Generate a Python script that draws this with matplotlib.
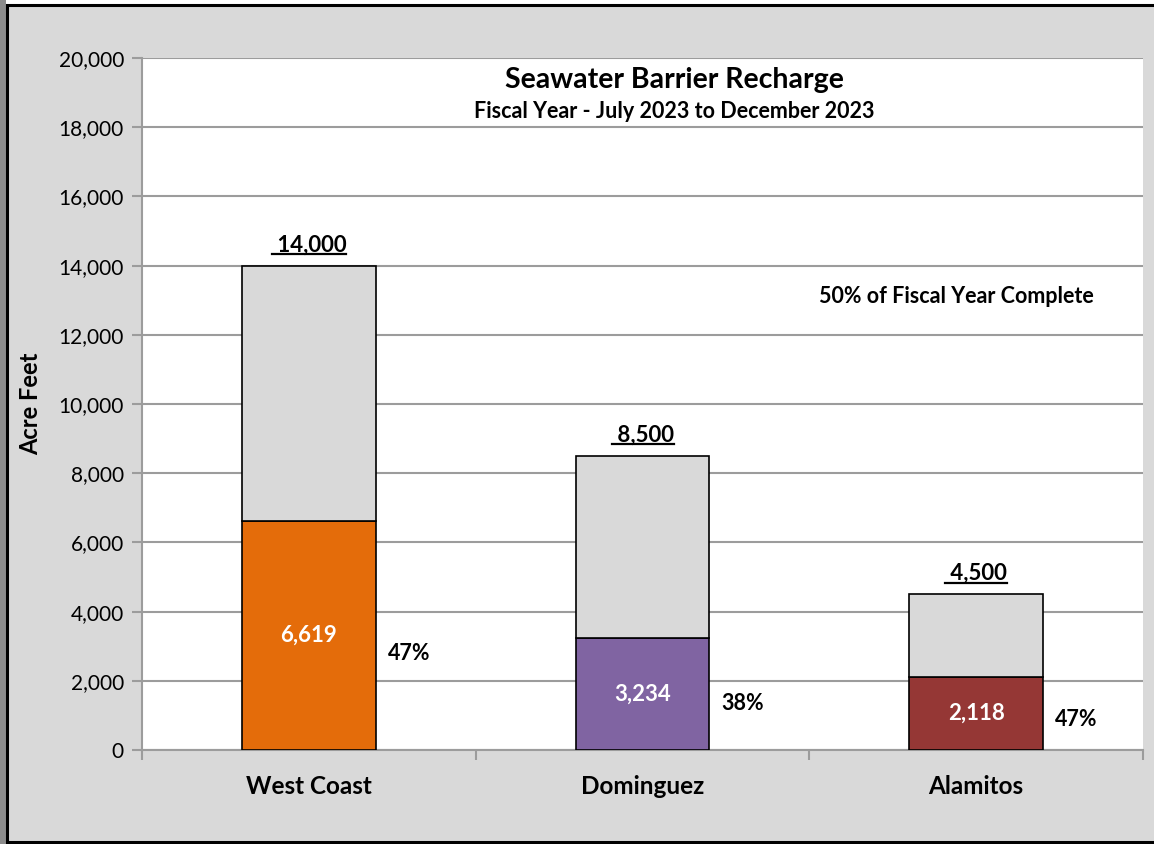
import matplotlib
matplotlib.use("Agg")
import matplotlib.pyplot as plt
from matplotlib.patches import Rectangle
from matplotlib.lines import Line2D
import numpy as np

plt.rcParams['font.family'] = ['Lato', 'DejaVu Sans']

# data
barriers = ["West Coast", "Dominguez", "Alamitos"]
annual_target = [14000, 8500, 4500]
recharged = [6619, 3234, 2118]
percent_labels = ["47%", "38%", "47%"]
fill_colors = ["#e46c0a", "#8064a2", "#953735"]
yticks = list(range(0, 20001, 2000))

fig = plt.figure(figsize=(11.54, 8.44), dpi=100)
fig.patch.set_facecolor("white")

# chart frame (grey panel with black border and a little shadow on the left)
fig.patches.append(Rectangle((0, 0), 6 / 1154, 1, transform=fig.transFigure,
                             facecolor="#8c8c8c", edgecolor="none", zorder=-3))
fig.patches.append(Rectangle((7 / 1154, 2 / 844), 1.1, 1 - 7 / 844,
                             transform=fig.transFigure, facecolor="#d9d9d9",
                             edgecolor="black", linewidth=2.2, zorder=-2))

ax = fig.add_axes([142 / 1154, 1 - 750 / 844, 1001 / 1154, 692 / 844])
ax.set_facecolor("white")

x = np.arange(len(barriers))
w = 0.4
remaining = [t - r for t, r in zip(annual_target, recharged)]
ax.bar(x, recharged, w, color=fill_colors, edgecolor="black", linewidth=1.2, zorder=3)
ax.bar(x, remaining, w, bottom=recharged, color="#d9d9d9", edgecolor="black",
       linewidth=1.2, zorder=3)

ax.set_xlim(-0.5, 2.5)
ax.set_ylim(0, 20000)
ax.set_yticks(yticks)
ax.set_yticklabels([f"{v:,}" for v in yticks], fontsize=15)
ax.yaxis.grid(True, color="#9c9c9c", linewidth=1.5, zorder=0)
ax.set_axisbelow(True)

ax.set_xticks(x)
ax.set_xticklabels(barriers, fontsize=17.5, fontweight="bold")
ax.set_xticks([-0.5, 0.5, 1.5, 2.5], minor=True)
ax.tick_params(axis="x", which="major", length=0, pad=18)
ax.tick_params(axis="x", which="minor", length=7, color="#9c9c9c", width=1.5)
ax.tick_params(axis="y", length=7, color="#9c9c9c", width=1.5, pad=6)

for s in ["top", "right"]:
    ax.spines[s].set_visible(False)
for s in ["left", "bottom"]:
    ax.spines[s].set_color("#9c9c9c")
    ax.spines[s].set_linewidth(1.5)

ax.set_ylabel("Acre Feet", fontsize=17, fontweight="bold", labelpad=12)

# labels
total_texts = []
for i in range(len(barriers)):
    ax.text(x[i], recharged[i] / 2, f"{recharged[i]:,}", ha="center", va="center",
            color="white", fontsize=16, fontweight="bold", zorder=4)
    ax.text(x[i] + w / 2 + 0.036, recharged[i] * 0.42, percent_labels[i],
            ha="left", va="center", fontsize=15.5, fontweight="bold", zorder=4)
    t = ax.text(x[i], annual_target[i] + 300, f" {annual_target[i]:,}", ha="center",
                va="bottom", fontsize=16, fontweight="bold", zorder=4)
    total_texts.append((t, annual_target[i]))

ax.text(1.94, 13100, "50% of Fiscal Year Complete", ha="center", va="center",
        fontsize=15.5, fontweight="bold")
ax.text(0.532, 0.968, "Seawater Barrier Recharge", transform=ax.transAxes,
        ha="center", va="center", fontsize=20.5, fontweight="bold")
ax.text(0.532, 0.922, "Fiscal Year - July 2023 to December 2023", transform=ax.transAxes,
        ha="center", va="center", fontsize=15.5, fontweight="bold")

# underline the totals
fig.canvas.draw()
r = fig.canvas.get_renderer()
inv = ax.transData.inverted()
for t, total in total_texts:
    bb = t.get_window_extent(r)
    (x0, _), (x1, _) = inv.transform([(bb.x0, bb.y0), (bb.x1, bb.y0)])
    ax.add_line(Line2D([x0, x1], [total + 335, total + 335], color="black",
                       linewidth=1.6, zorder=4))

fig.savefig("out.png", dpi=100)
